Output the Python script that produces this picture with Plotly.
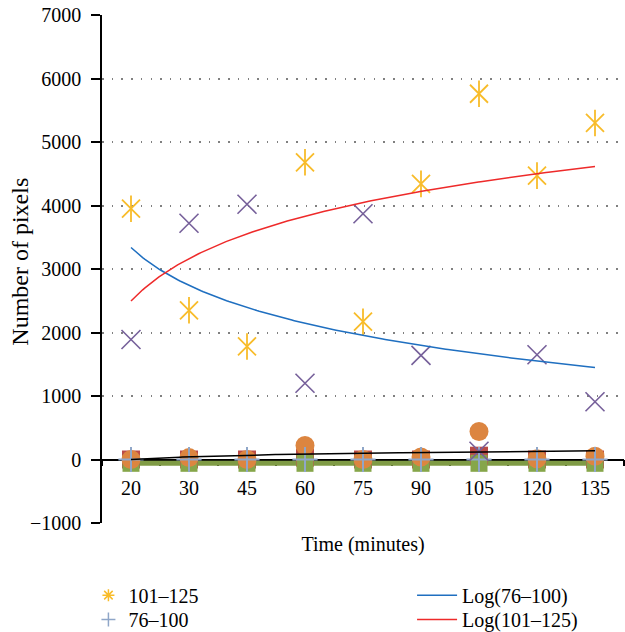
import numpy as np
import plotly.graph_objects as go

# ---- data ----
time_labels = ["20", "30", "45", "60", "75", "90", "105", "120", "135"]
s_101_125 = [3950, 2350, 1780, 4680, 2170, 4340, 5760, 4470, 5300]   # yellow asterisks
s_76_100 = [0, 0, 0, 0, 0, 0, 0, 0, 0]                                # light blue plus
s_purple = [1890, 3720, 4020, 1200, 3870, 1640, 130, 1650, 910]       # purple crosses
s_orange = [0, 30, 0, 220, 0, 40, 440, 10, 50]                        # orange circles
s_red = [0, 0, 0, 30, 0, 0, 60, 0, 0]                                 # red squares
s_green = [-60, -60, -60, -60, -60, -60, -60, -60, -60]               # green squares

idx = np.arange(1, len(time_labels) + 1)
FONT = "Liberation Serif"
YELLOW = "#F8BC2A"
PLUS = "#8FA6C8"
PURPLE = "#76609A"


def log_fit(vals):
    b, a = np.polyfit(np.log(idx), np.asarray(vals, float), 1)
    xs = np.linspace(1, len(idx), 200)
    return xs, a + b * np.log(xs)


fig = go.Figure()

# thick green trend
gx, gy = log_fit(s_green)
fig.add_trace(go.Scatter(x=gx, y=gy, mode="lines", line=dict(color="#7F9B45", width=5),
                         showlegend=False, hoverinfo="skip"))

fig.add_trace(go.Scatter(x=idx, y=s_red, mode="markers", showlegend=False,
                         marker=dict(symbol="square", size=18, color="#BA4B47")))
fig.add_trace(go.Scatter(x=idx, y=s_green, mode="markers", showlegend=False,
                         marker=dict(symbol="square", size=17, color="#86A64A")))
fig.add_trace(go.Scatter(x=idx, y=s_orange, mode="markers", showlegend=False,
                         marker=dict(symbol="circle", size=19, color="#DC8540")))
fig.add_trace(go.Scatter(x=idx, y=s_76_100, mode="markers", showlegend=False,
                         marker=dict(symbol="cross-thin-open", size=18, color=PLUS,
                                     line=dict(width=2, color=PLUS))))
fig.add_trace(go.Scatter(x=idx, y=s_purple, mode="markers", showlegend=False,
                         marker=dict(symbol="x-thin-open", size=19, color=PURPLE,
                                     line=dict(width=1.6, color=PURPLE))))
# six-armed asterisk = x + vertical bar
fig.add_trace(go.Scatter(x=idx, y=s_101_125, mode="markers", showlegend=False,
                         marker=dict(symbol="x-thin-open", size=18, color=YELLOW,
                                     line=dict(width=1.8, color=YELLOW))))
fig.add_trace(go.Scatter(x=idx, y=s_101_125, mode="markers", showlegend=False,
                         marker=dict(symbol="line-ns-open", size=19, color=YELLOW,
                                     line=dict(width=1.8, color=YELLOW))))

# black log trend (circles)
ox, oy = log_fit(s_orange)
fig.add_trace(go.Scatter(x=ox, y=oy, mode="lines", line=dict(color="black", width=1.5),
                         showlegend=False, hoverinfo="skip"))
# blue log trend (purple series)
bx, by = log_fit(s_purple)
fig.add_trace(go.Scatter(x=bx, y=by, mode="lines", name="Log(76–100)", legend="legend3",
                         line=dict(color="#1F6FC0", width=1.5)))
# red log trend (yellow series)
rx, ry = log_fit(s_101_125)
fig.add_trace(go.Scatter(x=rx, y=ry, mode="lines", name="Log(101–125)", legend="legend4",
                         line=dict(color="#EE2A2A", width=1.5)))

# legend-only entries with small symbols
fig.add_trace(go.Scatter(x=[None], y=[None], mode="markers", name="101–125", legend="legend",
                         marker=dict(symbol="asterisk-open", size=10, color=YELLOW,
                                     line=dict(width=1.5, color=YELLOW))))
fig.add_trace(go.Scatter(x=[None], y=[None], mode="markers", name="76–100", legend="legend2",
                         marker=dict(symbol="cross-thin-open", size=10, color=PLUS,
                                     line=dict(width=1.5, color=PLUS))))

leg_common = dict(font=dict(family=FONT, size=20, color="black"), bgcolor="rgba(0,0,0,0)",
                  xanchor="left", yanchor="middle", orientation="v")

fig.update_layout(
    width=625, height=632,
    margin=dict(l=102, r=1, t=15, b=109, autoexpand=False),
    paper_bgcolor="white", plot_bgcolor="white",
    font=dict(family=FONT, size=20, color="black"),
    legend=dict(x=-0.026, y=-0.142, **leg_common),
    legend2=dict(x=-0.026, y=-0.19, **leg_common),
    legend3=dict(x=0.594, y=-0.142, itemwidth=40, **leg_common),
    legend4=dict(x=0.594, y=-0.19, itemwidth=40, **leg_common),
    xaxis=dict(
        range=[0.5, 9.5], tickmode="array", tickvals=idx, ticktext=time_labels,
        ticks="", showline=True, linecolor="black", linewidth=1.5,
        anchor="free", position=0.125, showgrid=False, zeroline=False,
        layer="below traces", ticklabelstandoff=11,
        tickfont=dict(family=FONT, size=20, color="black"),
        minor=dict(tickvals=list(np.arange(0.5, 10, 1.0)), ticks="outside", ticklen=6,
                   tickcolor="black", tickwidth=1.5, showgrid=False),
        title=dict(text="Time (minutes)", font=dict(family=FONT, size=20, color="black"),
                   standoff=38),
    ),
    yaxis=dict(
        range=[-1000, 7000], tickmode="linear", tick0=0, dtick=1000,
        ticks="outside", ticklen=9, tickwidth=1.5, tickcolor="black",
        showline=True, linecolor="black", linewidth=1.5, zeroline=False,
        showgrid=True, gridcolor="#808080", gridwidth=1.5, griddash="1.5px,8.2px",
        layer="below traces", ticklabelstandoff=6,
        tickfont=dict(family=FONT, size=20, color="black"),
    ),
    annotations=[dict(text="Number of pixels", textangle=-90, xref="paper", yref="paper",
                      x=-0.157, y=0.5145, xanchor="center", yanchor="middle",
                      showarrow=False, font=dict(family=FONT, size=24, color="black"))],
)

fig.write_html("out.html")
